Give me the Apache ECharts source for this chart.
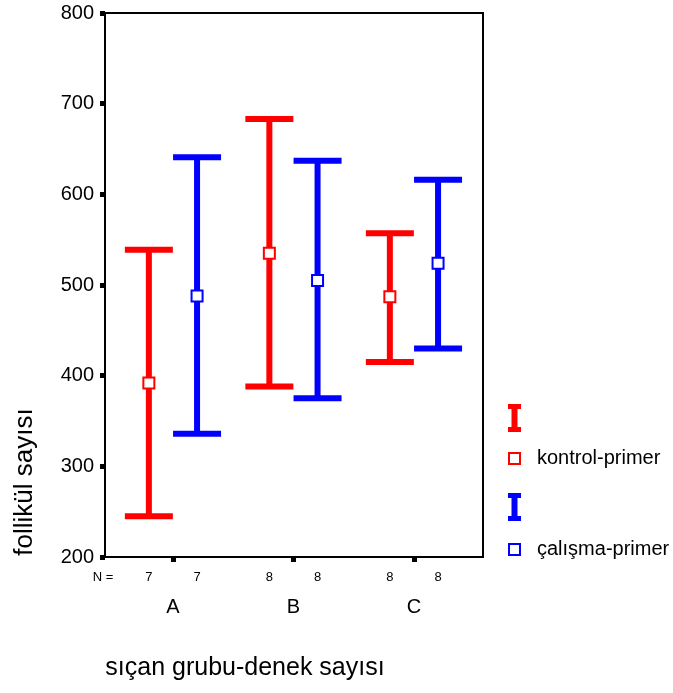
<!DOCTYPE html>
<html>
<head>
<meta charset="utf-8">
<script src="https://cdn.jsdelivr.net/npm/echarts@6/dist/echarts.min.js"></script>
<style>
  html, body { margin: 0; padding: 0; background: #fff; }
  #chart { width: 673px; height: 693px; }
</style>
</head>
<body>
<div id="chart"></div>
<script>
var categories = ['A', 'B', 'C'];
var seriesNames = ['kontrol-primer', 'çalışma-primer'];
var colors = ['#ff0000', '#0000ff'];

// kontrol-primer
var kontrolMean = [392, 535, 487];
var kontrolLow = [245, 388, 415];
var kontrolHigh = [539, 683, 557];
var kontrolN = [7, 8, 8];

// çalışma-primer
var calismaMean = [488, 505, 524];
var calismaLow = [336, 375, 430];
var calismaHigh = [641, 637, 616];
var calismaN = [7, 8, 8];

var yTicks = [200, 300, 400, 500, 600, 700, 800];

var FONT = '"Liberation Sans", Arial, sans-serif';
var catPos = categories.map(function (c, i) { return i + 1; });
var offset = 0.2;  // group offset of each series around the category

function buildData(mean, low, high, n, shift) {
  return categories.map(function (c, i) {
    return [catPos[i] + shift, low[i], high[i], mean[i], n[i]];
  });
}

function makeRender(color) {
  return function (params, api) {
    var x = api.value(0);
    var pLow = api.coord([x, api.value(1)]);
    var pHigh = api.coord([x, api.value(2)]);
    var pMean = api.coord([x, api.value(3)]);
    var pBase = api.coord([x, yTicks[0]]);
    var half = 24;
    var lw = 6;
    return {
      type: 'group',
      children: [
        { type: 'line', shape: { x1: pLow[0], y1: pLow[1], x2: pHigh[0], y2: pHigh[1] },
          style: { stroke: color, lineWidth: lw } },
        { type: 'line', shape: { x1: pHigh[0] - half, y1: pHigh[1], x2: pHigh[0] + half, y2: pHigh[1] },
          style: { stroke: color, lineWidth: lw } },
        { type: 'line', shape: { x1: pLow[0] - half, y1: pLow[1], x2: pLow[0] + half, y2: pLow[1] },
          style: { stroke: color, lineWidth: lw } },
        { type: 'rect', shape: { x: pMean[0] - 5.5, y: pMean[1] - 5.5, width: 11, height: 11 },
          style: { fill: '#fff', stroke: color, lineWidth: 2 } },
        { type: 'text', x: pBase[0], y: pBase[1] + 20,
          style: { text: String(api.value(4)), fill: '#000', font: '13px ' + FONT,
                   align: 'center', verticalAlign: 'middle' } }
      ]
    };
  };
}

function legendIcon(y, color) {
  return [
    { type: 'rect', shape: { x: 508, y: y, width: 13, height: 5 }, style: { fill: color } },
    { type: 'rect', shape: { x: 511.5, y: y, width: 6, height: 28 }, style: { fill: color } },
    { type: 'rect', shape: { x: 508, y: y + 23, width: 13, height: 5 }, style: { fill: color } }
  ];
}

function legendEntry(y, color, label) {
  return [
    { type: 'rect', shape: { x: 509, y: y - 5.5, width: 11, height: 11 },
      style: { fill: '#fff', stroke: color, lineWidth: 2 } },
    { type: 'text', x: 537, y: y,
      style: { text: label, fill: '#000', font: '20px ' + FONT, verticalAlign: 'middle' } }
  ];
}

var chart = echarts.init(document.getElementById('chart'));

var option = {
  backgroundColor: '#fff',
  animation: false,
  grid: {
    left: 105, right: 190, top: 13, bottom: 136,
    show: true, borderColor: '#000', borderWidth: 2
  },
  xAxis: {
    type: 'value',
    min: 0.436,
    max: 3.573,
    splitLine: { show: false },
    axisLine: { show: true, onZero: false, lineStyle: { color: '#000', width: 2 } },
    axisTick: { show: true, length: 5, customValues: catPos, lineStyle: { color: '#000', width: 5 } },
    axisLabel: {
      customValues: catPos,
      margin: 40,
      fontSize: 20,
      fontFamily: FONT,
      color: '#000',
      formatter: function (v) { return categories[Math.round(v) - 1]; }
    }
  },
  yAxis: {
    type: 'value',
    min: yTicks[0],
    max: yTicks[yTicks.length - 1],
    interval: 100,
    splitLine: { show: false },
    axisLine: { show: true, lineStyle: { color: '#000', width: 2 } },
    axisTick: { show: true, length: 5, lineStyle: { color: '#000', width: 5 } },
    axisLabel: { margin: 11, fontSize: 20, fontFamily: FONT, color: '#000' }
  },
  series: [
    {
      name: seriesNames[0],
      type: 'custom',
      renderItem: makeRender(colors[0]),
      encode: { x: 0, y: [1, 2] },
      data: buildData(kontrolMean, kontrolLow, kontrolHigh, kontrolN, -offset),
      z: 3
    },
    {
      name: seriesNames[1],
      type: 'custom',
      renderItem: makeRender(colors[1]),
      encode: { x: 0, y: [1, 2] },
      data: buildData(calismaMean, calismaLow, calismaHigh, calismaN, offset),
      z: 3
    }
  ],
  graphic: [
    { type: 'text', x: 103, y: 577,
      style: { text: 'N =', fill: '#000', font: '13px ' + FONT, align: 'center', verticalAlign: 'middle' } },
    { type: 'text', x: 245, y: 668,
      style: { text: 'sıçan grubu-denek sayısı', fill: '#000', font: '25px ' + FONT,
               align: 'center', verticalAlign: 'middle' } },
    { type: 'text', x: 25, y: 482, rotation: Math.PI / 2,
      style: { text: 'follikül sayısı', fill: '#000', font: '26px ' + FONT,
               align: 'center', verticalAlign: 'middle' } }
  ]
    .concat(legendIcon(404, colors[0]))
    .concat(legendEntry(458.5, colors[0], seriesNames[0]))
    .concat(legendIcon(493, colors[1]))
    .concat(legendEntry(549.5, colors[1], seriesNames[1]))
};

chart.setOption(option);
</script>
</body>
</html>
